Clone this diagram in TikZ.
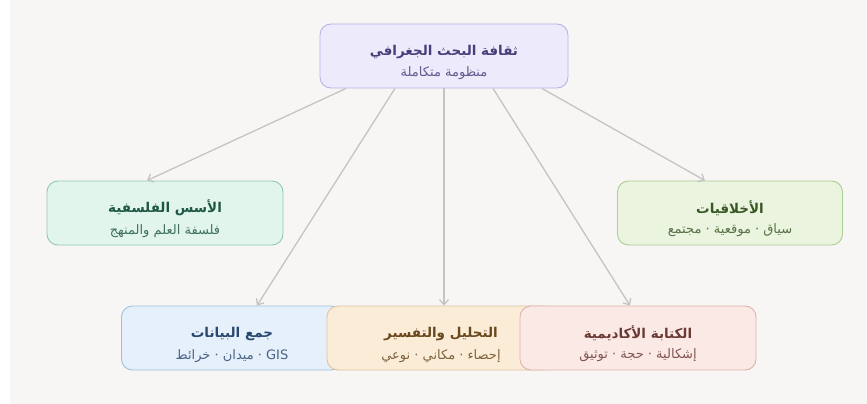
\documentclass[tikz,border=0pt]{standalone}
\usepackage{fontspec}
\newfontfamily\arabicfont[Script=Arabic]{DejaVu Sans}
\TeXXeTstate=1
\usetikzlibrary{arrows.meta, calc}

\definecolor{pagebg}{RGB}{247, 246, 244}
\definecolor{linkgrey}{RGB}{196, 196, 194}
\definecolor{rootfill}{RGB}{237, 234, 252}
\definecolor{rootline}{RGB}{186, 178, 232}
\definecolor{roottext}{RGB}{72, 62, 122}
\definecolor{philfill}{RGB}{226, 245, 237}
\definecolor{philline}{RGB}{144, 202, 176}
\definecolor{philtext}{RGB}{30, 88, 68}
\definecolor{ethfill}{RGB}{234, 244, 223}
\definecolor{ethline}{RGB}{170, 205, 144}
\definecolor{ethtext}{RGB}{58, 88, 36}
\definecolor{datafill}{RGB}{230, 240, 251}
\definecolor{dataline}{RGB}{158, 192, 224}
\definecolor{datatext}{RGB}{40, 72, 110}
\definecolor{anafill}{RGB}{251, 236, 216}
\definecolor{analine}{RGB}{224, 196, 156}
\definecolor{anatext}{RGB}{104, 72, 28}
\definecolor{wrifill}{RGB}{251, 233, 230}
\definecolor{wriline}{RGB}{223, 178, 172}
\definecolor{writext}{RGB}{108, 58, 52}

\begin{document}
\begin{tikzpicture}[x=1pt, y=-1pt,
        card/.style={draw, rounded corners=11pt, line width=0.9pt, minimum height=64pt,
          align=center, inner sep=0pt, font=\arabicfont},
        link/.style={draw=linkgrey, line width=1.3pt, -{Straight Barb[length=5pt, width=9pt]}},
      ]
        \fill[white] (0,0) rectangle (867,404);
        \fill[pagebg] (10,0) rectangle (867,404);
        \useasboundingbox (0,0) rectangle (867,404);

        % centre
        \node[card, fill=rootfill, draw=rootline, minimum width=248pt] (root) at (444,56)
          {\rule{0pt}{24pt}{\fontsize{13.5}{18}\bfseries\color{roottext}\beginR ثقافة البحث الجغرافي\endR}\\[7pt]
           {\fontsize{13}{14}\selectfont\color{roottext!85}\beginR منظومة متكاملة\endR}};

        % upper row
        \node[card, fill=philfill, draw=philline, minimum width=236pt] (phil) at (165,213)
          {\rule{0pt}{24pt}{\fontsize{13.5}{18}\bfseries\color{philtext}\beginR الأسس الفلسفية\endR}\\[7pt]
           {\fontsize{13}{14}\selectfont\color{philtext!85}\beginR فلسفة العلم والمنهج\endR}};
        \node[card, fill=ethfill, draw=ethline, minimum width=225pt] (eth) at (730,213)
          {\rule{0pt}{24pt}{\fontsize{13.5}{18}\bfseries\color{ethtext}\beginR الأخلاقيات\endR}\\[7pt]
           {\fontsize{13}{14}\selectfont\color{ethtext!85}\beginR سياق · موقعية · مجتمع\endR}};

        % lower row
        \node[card, fill=datafill, draw=dataline, minimum width=221pt] (data) at (232,338)
          {\rule{0pt}{24pt}{\fontsize{13.5}{18}\bfseries\color{datatext}\beginR جمع البيانات\endR}\\[7pt]
           {\fontsize{13}{14}\selectfont\color{datatext!85}\beginR\beginL GIS\endL{} · ميدان · خرائط\endR}};
        \node[card, fill=anafill, draw=analine, minimum width=228pt] (ana) at (441,338)
          {\rule{0pt}{24pt}{\fontsize{13.5}{18}\bfseries\color{anatext}\beginR التحليل والتفسير\endR}\\[7pt]
           {\fontsize{13}{14}\selectfont\color{anatext!85}\beginR إحصاء · مكاني · نوعي\endR}};
        \node[card, fill=wrifill, draw=wriline, minimum width=236pt] (wri) at (638,338)
          {\rule{0pt}{24pt}{\fontsize{13.5}{18}\bfseries\color{writext}\beginR الكتابة الأكاديمية\endR}\\[7pt]
           {\fontsize{13}{14}\selectfont\color{writext!85}\beginR إشكالية · حجة · توثيق\endR}};

        \draw[link] ($(root.south)+(-98,0)$) -- ($(phil.north)+(-18,0)$);
        \draw[link] ($(root.south)+(-49,0)$) -- ($(data.north)+(25,0)$);
        \draw[link] (root.south) -- ($(ana.north)+(3,0)$);
        \draw[link] ($(root.south)+(49,0)$) -- ($(wri.north)+(-8,0)$);
        \draw[link] ($(root.south)+(98,0)$) -- ($(eth.north)+(-25,0)$);
      \end{tikzpicture}
\end{document}
